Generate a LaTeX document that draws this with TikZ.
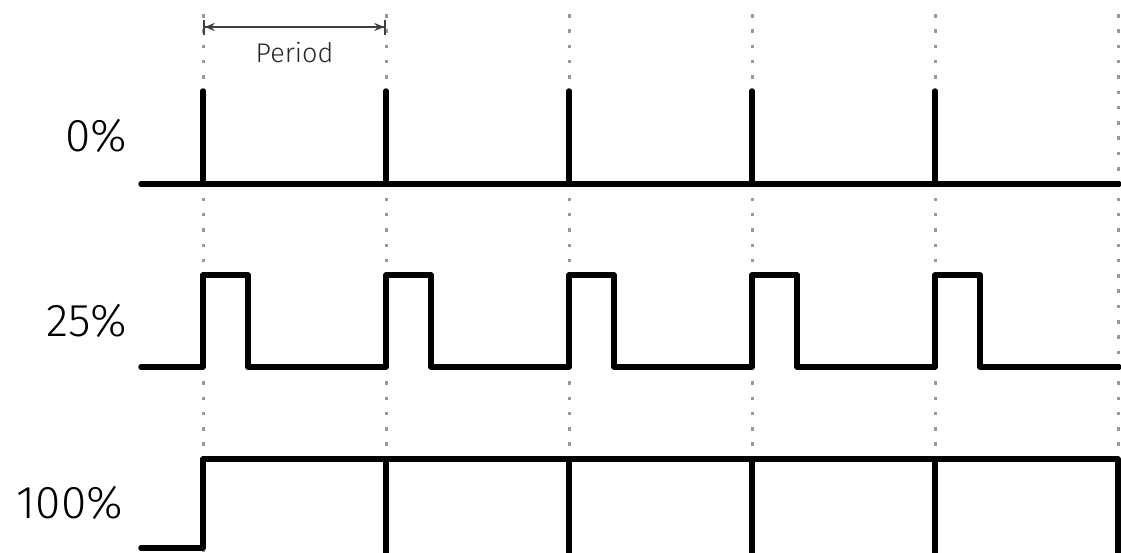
\documentclass[tikz,border=0pt]{standalone}
\usepackage{fontspec}
\setmainfont{Fira Sans}[UprightFont=* Light]
\usepackage{tikz}
\usetikzlibrary{arrows.meta}

\tikzset{
	signal/.style={line width=5.5pt, line cap=round, line join=round},
	guide/.style={black!40, line width=3pt, dash pattern=on 3.5pt off 11.8pt},
	duty/.style={anchor=east, inner sep=0pt, font=\fontsize{46}{46}\selectfont},
}

\begin{document}
\begin{tikzpicture}[x=1pt,y=-1pt]
	\useasboundingbox (0,0) rectangle (1121,552);
	% guides, one per period
	\foreach \x in {203,386,569,752,935,1118}
		\draw [guide] (\x,14) -- (\x,552);
	% period
	\coordinate (start) at (203,27);
	\coordinate (end)   at (386,27);
	\draw [{Bar[width=15pt]Stealth[length=10pt,width=8pt]}-{Stealth[length=10pt,width=8pt]Bar[width=15pt]}, line width=1.7pt, black!75] (start) -- (end);
	\node (period) [inner sep=0pt, font=\fontsize{27}{27}\selectfont, text=black!85] at (294.5,52) {Period};
	% duty 0%
	\node (zero) [duty] at (127,136) {0\%};
	\draw [signal] (141,184) -- (1119,184);
	\foreach \x in {203,386,569,752,935}
		\draw [signal] (\x,184) -- (\x,91);
	% duty 25%
	\node (quarter) [duty] at (127,321) {25\%};
	\draw [signal] (141,367)
		\foreach \x in {203,386,569,752,935} { -- (\x,367) -- (\x,275) -- (\x+45,275) -- (\x+45,367) }
		-- (1119,367);
	% duty 100%
	\node (full) [duty] at (123,503) {100\%};
	\draw [signal] (141,548) -- (203,548) -- (203,459) -- (1118,459) -- (1118,565);
	\foreach \x in {386,569,752,935}
		\draw [signal] (\x,459) -- (\x,565);
\end{tikzpicture}
\end{document}
